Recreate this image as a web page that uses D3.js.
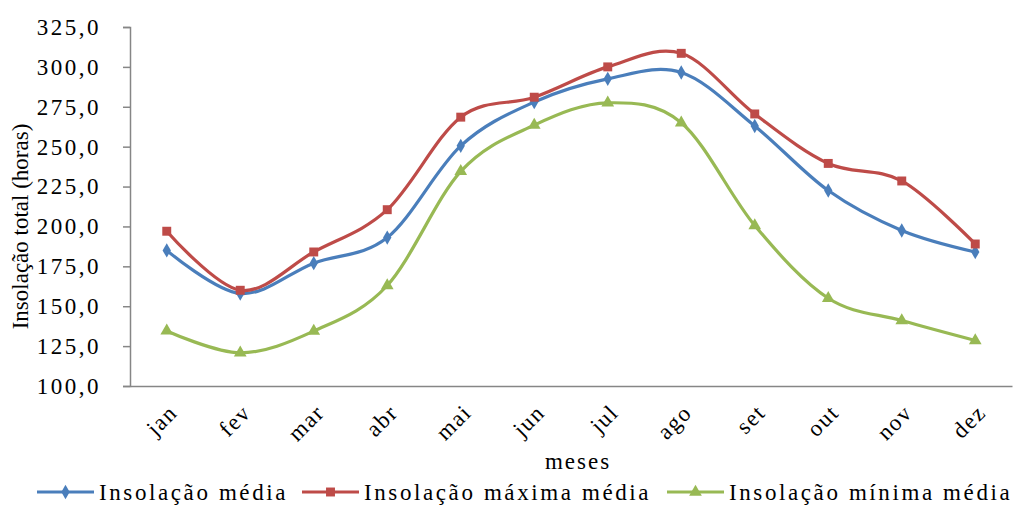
<!DOCTYPE html>
<html>
<head>
<meta charset="utf-8">
<script src="https://cdn.jsdelivr.net/npm/d3@7"></script>
<style>
  body { margin: 0; background: #fff; }
  text { font-family: "Liberation Serif", "Times New Roman", serif; fill: #000; }
</style>
</head>
<body>
<svg id="chart" width="1020" height="505"></svg>
<script>
// months on the x axis
var meses = ['jan','fev','mar','abr','mai','jun','jul','ago','set','out','nov','dez'];
// series (hours)
var media  = [185.0, 158.0, 177.0, 193.0, 250.5, 278.0, 292.5, 296.5, 263.0, 222.5, 197.5, 184.0];
var maxima = [197.0, 160.0, 184.0, 210.5, 268.5, 281.0, 300.0, 308.5, 270.5, 239.5, 228.5, 189.0];
var minima = [134.5, 120.8, 134.4, 163.0, 234.5, 263.5, 277.5, 265.0, 200.6, 155.0, 141.0, 128.5];
var yTicks = [100, 125, 150, 175, 200, 225, 250, 275, 300, 325];

var series = [
	{name: 'Insolação média',        values: media,  color: '#4A7EBB', marker: 'diamond'},
	{name: 'Insolação máxima média', values: maxima, color: '#BE4B48', marker: 'square'},
	{name: 'Insolação mínima média', values: minima, color: '#98B954', marker: 'triangle'}
];

var svg = d3.select('#chart');
var plotLeft = 130, plotRight = 1012, plotTop = 27, plotBottom = 386;
var axisColor = '#868686';

var x = d3.scaleBand().domain(meses).range([plotLeft, plotRight]);
var y = d3.scaleLinear().domain([100, 325]).range([plotBottom, plotTop]);
var fmt = function(d){ return d3.format('.1f')(d).replace('.', ','); };

// y axis
var yAxis = svg.append('g')
	.attr('transform', 'translate(' + plotLeft + ',0)')
	.call(d3.axisLeft(y).tickValues(yTicks).tickSize(7).tickPadding(22).tickFormat(fmt));
yAxis.select('.domain').attr('stroke', axisColor).attr('stroke-width', 1.5);
yAxis.selectAll('.tick line').attr('stroke', axisColor).attr('stroke-width', 1.5);
yAxis.selectAll('.tick text')
	.style('font-family', '"Liberation Serif", serif')
	.style('font-size', '23px')
	.style('letter-spacing', '2.5px')
	.attr('fill', '#000');

// x axis
var xAxis = svg.append('g')
	.attr('transform', 'translate(0,' + plotBottom + ')')
	.call(d3.axisBottom(x).tickSize(0).tickPadding(0));
xAxis.select('.domain').attr('stroke', axisColor).attr('stroke-width', 1.5);
xAxis.selectAll('.tick text')
	.style('font-family', '"Liberation Serif", serif')
	.style('font-size', '23px')
	.style('letter-spacing', '1.5px')
	.attr('fill', '#000')
	.attr('text-anchor', 'end')
	.attr('dy', 0)
	.attr('transform', 'translate(12,28) rotate(-45)');

// axis titles
svg.append('text')
	.attr('transform', 'translate(28,' + ((plotTop + plotBottom) / 2 + 20) + ') rotate(-90)')
	.attr('text-anchor', 'middle')
	.style('font-size', '23px')
	.text('Insolação total (horas)');
svg.append('text')
	.attr('x', (plotLeft + plotRight) / 2 + 7)
	.attr('y', 469)
	.attr('text-anchor', 'middle')
	.style('font-size', '23px')
	.style('letter-spacing', '2px')
	.text('meses');

var line = d3.line()
	.x(function(d, i){ return x(meses[i]) + x.bandwidth() / 2; })
	.y(function(d){ return y(d); })
	.curve(d3.curveCardinal.tension(0));

var symbols = {
	diamond:  d3.symbol().type(d3.symbolDiamond).size(60),
	square:   d3.symbol().type(d3.symbolSquare).size(80),
	triangle: d3.symbol().type(d3.symbolTriangle).size(70)
};

series.forEach(function(s){
	var g = svg.append('g');
	g.append('path')
		.attr('d', line(s.values))
		.attr('fill', 'none')
		.attr('stroke', s.color)
		.attr('stroke-width', 3.2);
	g.selectAll('path.pt')
		.data(s.values)
		.enter().append('path')
		.attr('class', 'pt')
		.attr('d', symbols[s.marker])
		.attr('fill', s.color)
		.attr('transform', function(d, i){
			return 'translate(' + (x(meses[i]) + x.bandwidth() / 2) + ',' + y(d) + ')';
		});
});

// legend
var legendX = [37, 302, 667];
var legend = svg.append('g');
series.forEach(function(s, i){
	var lg = legend.append('g').attr('transform', 'translate(' + legendX[i] + ',492)');
	lg.append('line')
		.attr('x1', 0).attr('x2', 57)
		.attr('stroke', s.color).attr('stroke-width', 3.2);
	lg.append('path')
		.attr('d', symbols[s.marker])
		.attr('fill', s.color)
		.attr('transform', 'translate(28.5,0)');
	lg.append('text')
		.attr('x', 62)
		.attr('y', 8)
		.style('font-size', '23px')
		.style('letter-spacing', '2.6px')
		.text(s.name);
});
</script>
</body>
</html>
